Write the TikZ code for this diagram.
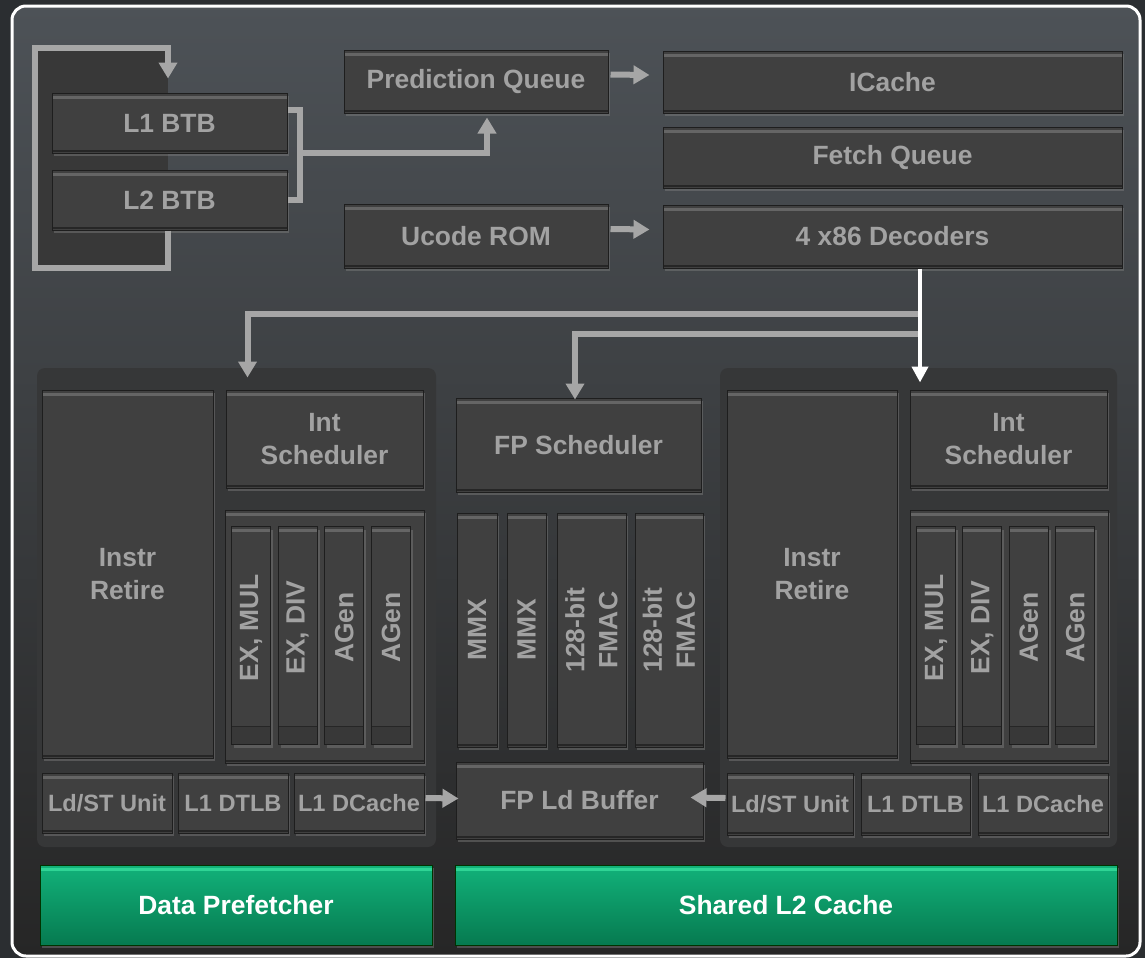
\documentclass[tikz,border=0pt]{standalone}
\usepackage{fontspec}
\setmainfont{Liberation Sans}
\usetikzlibrary{arrows.meta, calc, fit, shadows}

\definecolor{outerbg}{HTML}{2B2E31}
\definecolor{bgtop}{HTML}{4D5257}
\definecolor{bgmid}{HTML}{333538}
\definecolor{bgbot}{HTML}{262626}
\definecolor{panel}{HTML}{363738}
\definecolor{loopfill}{HTML}{383838}
\definecolor{boxfill}{HTML}{404040}
\definecolor{boxhi}{HTML}{656565}
\definecolor{boxlo}{HTML}{262626}
\definecolor{boxedge}{HTML}{1E1E1E}
\definecolor{boxtext}{HTML}{A2A2A2}
\definecolor{wiregray}{HTML}{A6A6A6}
\definecolor{greentop}{HTML}{12B27A}
\definecolor{greenbot}{HTML}{067A50}
\definecolor{greenhi}{HTML}{2FD495}

\tikzset{
  unit/.style={draw=boxedge, line width=0.5pt, fill=boxfill, inner sep=0pt,
    drop shadow={opacity=0.45, shadow xshift=1.2pt, shadow yshift=-1.5pt},
    path picture={
      \draw[boxhi, line width=1.5pt] ([yshift=-2pt]path picture bounding box.north west) -- ([yshift=-2pt]path picture bounding box.north east);
      \draw[boxlo, line width=1.2pt] ([yshift=1pt]path picture bounding box.south west) -- ([yshift=1pt]path picture bounding box.south east);}},
  exbar/.style={unit,
    path picture={
      \draw[boxhi, line width=1.5pt] ([yshift=-2pt]path picture bounding box.north west) -- ([yshift=-2pt]path picture bounding box.north east);
      \fill[black, opacity=0.12] (path picture bounding box.south west) rectangle ([yshift=9pt]path picture bounding box.south east);
      \draw[boxlo, line width=0.8pt] ([yshift=9pt]path picture bounding box.south west) -- ([yshift=9pt]path picture bounding box.south east);}},
  cache/.style={unit, draw=black!80!green, top color=greentop, bottom color=greenbot,
    path picture={
      \draw[greenhi, line width=1.5pt] ([yshift=-2pt]path picture bounding box.north west) -- ([yshift=-2pt]path picture bounding box.north east);}},
  lbl/.style={text=boxtext, align=center, inner sep=0pt, font=\bfseries\fontsize{13.2}{16.5}\selectfont},
  smlbl/.style={lbl, font=\bfseries\fontsize{11.8}{14}\selectfont},
  vlbl/.style={lbl, rotate=90},
  grnlbl/.style={lbl, text=white},
  wire/.style={draw=wiregray, line width=3pt},
  flow/.style={wire, -{Triangle[width=9pt,length=8pt]}},
  wflow/.style={draw=white, line width=2.4pt, -{Triangle[width=8pt,length=8pt]}}
}

\begin{document}
\begin{tikzpicture}[x=0.5pt, y=-0.5pt]
    \useasboundingbox (0,0) rectangle (1145,958);

    % Draw the background and the frame
    \fill[outerbg] (0,0) rectangle (1145,958);
    \shade[top color=bgtop, middle color=bgmid, bottom color=bgbot, rounded corners=7pt] (12,6) rectangle (1140,956);
    \draw[white, line width=1.5pt, rounded corners=7pt] (12,6) rectangle (1140,956);

    % Draw the two core panels
    \fill[panel, rounded corners=4pt] (37,368) rectangle (436,847);
    \fill[panel, rounded corners=4pt] (720,368) rectangle (1117,847);

    % Branch predictor loop area
    \fill[loopfill] (35,47) rectangle (168,267);
    \coordinate (loopx) at (168,0);

    % Front end
    \node[unit, fit={(52,93) (287,153)}, label={[lbl]center:L1 BTB}] (l1btb) {};
    \node[unit, fit={(52,170) (287,230)}, label={[lbl]center:L2 BTB}] (l2btb) {};
    \node[unit, fit={(344,50) (608,113)}, label={[lbl]center:Prediction Queue}] (predq) {};
    \node[unit, fit={(344,204) (608,268)}, label={[lbl]center:Ucode ROM}] (ucode) {};
    \node[unit, fit={(663,51) (1122,113)}, label={[lbl]center:ICache}] (icache) {};
    \node[unit, fit={(663,127) (1122,188)}, label={[lbl]center:Fetch Queue}] (fetchq) {};
    \node[unit, fit={(663,205) (1122,268)}, label={[lbl]center:4 x86 Decoders}] (decode) {};

    % Core 0
    \node[unit, fit={(42,390) (213,758)}, label={[lbl]center:Instr\\Retire}] (retire0) {};
    \node[unit, fit={(226,390) (423,488)}, label={[lbl]center:Int\\Scheduler}] (intsch0) {};
    \node[unit, fit={(225,510) (424,763)}] (exblk0) {};
    \foreach \i/\txt in {0/{EX, MUL}, 1/{EX, DIV}, 2/AGen, 3/AGen} {
        \node[exbar, fit={($(exblk0.north west)+(7+46.7*\i,17)$) ($(exblk0.north west)+(46+46.7*\i,235)$)},
              label={[vlbl, xshift=4pt]center:{\txt}}] (exa\i) {};
    }
    \node[unit, fit={(42,773) (172,833)}, label={[smlbl]center:Ld/ST Unit}] (lsu0) {};
    \node[unit, fit={(178,773) (288,833)}, label={[smlbl]center:L1 DTLB}] (dtlb0) {};
    \node[unit, fit={(294,773) (424,833)}, label={[smlbl]center:L1 DCache}] (dcache0) {};

    % Shared FP unit
    \node[unit, fit={(456,398) (701,492)}, label={[lbl]center:FP Scheduler}] (fpsch) {};
    \node[unit, fit={(457,513) (497,747)}, label={[vlbl]center:MMX}] (mmx0) {};
    \node[unit, fit={(507,513) (546,747)}, label={[vlbl]center:MMX}] (mmx1) {};
    \node[unit, fit={(557,513) (626,747)}, label={[vlbl]center:128-bit\\FMAC}] (fmac0) {};
    \node[unit, fit={(635,513) (703,747)}, label={[vlbl]center:128-bit\\FMAC}] (fmac1) {};
    \node[unit, fit={(456,762) (703,839)}, label={[lbl]center:FP Ld Buffer}] (fpld) {};

    % Core 1
    \node[unit, fit={(727,390) (897,758)}, label={[lbl]center:Instr\\Retire}] (retire1) {};
    \node[unit, fit={(910,390) (1107,488)}, label={[lbl]center:Int\\Scheduler}] (intsch1) {};
    \node[unit, fit={(910,510) (1108,763)}] (exblk1) {};
    \foreach \i/\txt in {0/{EX, MUL}, 1/{EX, DIV}, 2/AGen, 3/AGen} {
        \node[exbar, fit={($(exblk1.north west)+(7+46.4*\i,17)$) ($(exblk1.north west)+(46+46.4*\i,235)$)},
              label={[vlbl, xshift=4pt]center:{\txt}}] (exb\i) {};
    }
    \node[unit, fit={(727,773) (853,835)}, label={[smlbl]center:Ld/ST Unit}] (lsu1) {};
    \node[unit, fit={(861,773) (970,835)}, label={[smlbl]center:L1 DTLB}] (dtlb1) {};
    \node[unit, fit={(978,773) (1108,835)}, label={[smlbl]center:L1 DCache}] (dcache1) {};

    % Shared blocks at the bottom
    \node[cache, fit={(40,865) (432,945)}, label={[grnlbl]center:Data Prefetcher}] (prefetch) {};
    \node[cache, fit={(455,865) (1117,945)}, label={[grnlbl]center:Shared L2 Cache}] (l2cache) {};

    % BTB loop and bracket
    \draw[flow] (l2btb.south -| loopx) -- ++(0,37) -- ++(-133,0) -- ++(0,-220) -- ++(133,0) -- ($(l1btb.north -| loopx)+(0,-14)$);
    \coordinate (brk) at (300,153);
    \draw[wire] ($(l1btb.north east)+(0,17)$) -| (brk) |- (l2btb.east);
    \draw[flow] (brk) -| ($(predq.south)+(11,4)$);

    % Fetch path
    \draw[flow] ($(predq.east)+(2,-7)$) -- ($(icache.west)+(-13,-7)$);
    \draw[flow] ($(ucode.east)+(2,-7)$) -- ($(decode.west)+(-13,-7)$);

    % Dispatch from the decoders
    \coordinate (split) at (920,0);
    \draw[flow] ($(decode.south -| split)+(0,45)$) -| ($(intsch0.north west)+(22,-12)$);
    \draw[flow] ($(decode.south -| split)+(0,65)$) -| ($(fpsch.north)+(-3.5,2)$);
    \draw[wflow] (decode.south -| split) -- ($(intsch1.north -| split)+(0,-7)$);

    % Loads into the FP unit
    \draw[flow] ($(dcache0.east)+(1,-5)$) -- ($(fpld.west)+(3,-2)$);
    \draw[flow] ($(lsu1.west)+(-1,-6)$) -- ($(fpld.east)+(-13,-3)$);
\end{tikzpicture}
\end{document}
